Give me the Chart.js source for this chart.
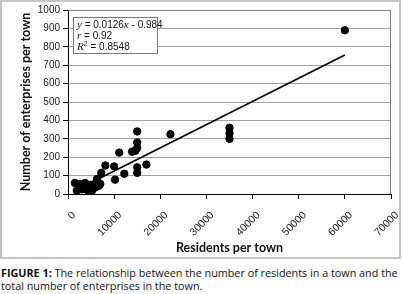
<!DOCTYPE html>
<html lang="en">
<head>
  <meta charset="UTF-8">
  <title>Residents vs enterprises</title>
</head>
<style>
  body { margin: 0; background: #fff; }
  .wrap { position: absolute; left: 0; top: 0; width: 403px; height: 260px; }
  .caption {
    position: absolute; left: 1px; top: 266px; width: 402px;
    font-family: "Open Sans", sans-serif; font-size: 10.8px; line-height: 13px; color: #111;
    white-space: nowrap;
  }
</style>
<body>
<div class="wrap">
  <canvas id="scatterChart"></canvas>
</div>
<div class="caption"><b>FIGURE 1:</b> The relationship between the number of residents in a town and the<br>total number of enterprises in the town.</div>

<script src="https://cdn.jsdelivr.net/npm/chart.js"></script>

<script>
  // residents per town (x) and enterprises per town (y)
  const residents = [1500, 1900, 2300, 2600, 3000, 3100, 3700, 4100, 4400, 4600, 4800, 5200, 5600, 5800, 5900,
    6300, 6700, 7000, 7200, 8100, 10000, 10200, 11100, 12200, 13900, 14600,
    15000, 15000, 15000, 15000, 15000, 17000, 22200, 35000, 35000, 35000, 60000];
  const enterprises = [60, 18, 45, 55, 25, 40, 60, 22, 45, 28, 50, 18, 40, 55, 35,
    82, 45, 55, 115, 155, 150, 78, 225, 110, 230, 235,
    340, 280, 250, 145, 115, 160, 325, 360, 330, 300, 890];

  // trendline shown in the figure
  const slope = 0.0126;
  const intercept = -0.984;

  const xTicks = [0, 10000, 20000, 30000, 40000, 50000, 60000, 70000];
  const yTicks = [0, 100, 200, 300, 400, 500, 600, 700, 800, 900, 1000];

  const points = residents.map((x, i) => ({ x: x, y: enterprises[i] }));
  const xMin = Math.min(...residents);
  const xMax = Math.max(...residents);
  const trend = [
    { x: xMin, y: slope * xMin + intercept },
    { x: xMax, y: slope * xMax + intercept }
  ];

  const decor = {
    id: 'decor',
    beforeDraw(chart) {
      const c = chart.ctx;
      c.save();
      c.strokeStyle = '#c4c4c4';
      c.lineWidth = 2;
      c.strokeRect(1, 1, 399, 257);
      c.restore();
    },
    afterDraw(chart) {
      const c = chart.ctx;
      const a = chart.chartArea;
      c.save();
      // plot area border (top/right)
      c.strokeStyle = '#808080';
      c.lineWidth = 1;
      c.beginPath();
      c.moveTo(a.left, a.top + 0.5);
      c.lineTo(a.right - 0.5, a.top + 0.5);
      c.lineTo(a.right - 0.5, a.bottom);
      c.stroke();

      // stats box
      const bx = a.left + 5, by = a.top + 7, bw = 84, bh = 36;
      c.fillStyle = '#fff';
      c.fillRect(bx, by, bw, bh);
      c.strokeStyle = '#777';
      c.strokeRect(bx + 0.5, by + 0.5, bw, bh);

      c.fillStyle = '#111';
      c.textBaseline = 'alphabetic';
      const sans = '10px "Liberation Sans"';
      const ital = 'italic 11px "Liberation Serif"';
      function run(parts, x, y) {
        parts.forEach(p => {
          c.font = p[1];
          c.fillText(p[0], x, y);
          x += c.measureText(p[0]).width;
        });
      }
      const tx = bx + 4;
      run([['y', ital], [' = 0.0126', sans], ['x', ital], [' - 0.984', sans]], tx, by + 11);
      run([['r', ital], [' = 0.92', sans]], tx, by + 22);
      c.font = ital;
      c.fillText('R', tx, by + 33);
      const rw = c.measureText('R').width;
      c.font = '7px "Liberation Sans"';
      c.fillText('2', tx + rw, by + 29);
      c.font = sans;
      c.fillText(' = 0.8548', tx + rw + 4, by + 33);
      c.restore();
    }
  };

  const ctx = document.getElementById('scatterChart').getContext('2d');
  new Chart(ctx, {
    type: 'scatter',
    data: {
      datasets: [
        {
          label: 'Towns',
          data: points,
          backgroundColor: '#000',
          borderColor: '#000',
          pointRadius: 3.7,
          pointHoverRadius: 3.7
        },
        {
          type: 'line',
          label: 'Trend',
          data: trend,
          borderColor: '#000',
          borderWidth: 1.6,
          pointRadius: 0,
          fill: false
        }
      ]
    },
    options: {
      responsive: true,
      maintainAspectRatio: false,
      animation: false,
      layout: { padding: { top: 10, right: 12, left: 0, bottom: 0 } },
      plugins: {
        legend: { display: false },
        tooltip: { enabled: false }
      },
      scales: {
        x: {
          type: 'linear',
          min: 0,
          max: 70000,
          afterFit: s => { s.height = 66; s.paddingRight = 0; s.paddingLeft = 0; },
          afterBuildTicks: s => { s.ticks = xTicks.map(v => ({ value: v })); },
          ticks: {
            minRotation: 45,
            maxRotation: 45,
            padding: 10,
            labelOffset: 6,
            color: '#222',
            font: { family: 'Liberation Sans', size: 10.5 },
            callback: v => String(v)
          },
          grid: { drawOnChartArea: false, tickLength: 5, tickColor: '#000' },
          border: { color: '#000' },
          title: {
            display: true,
            text: 'Residents per town',
            color: '#111',
            font: { family: 'Lato', size: 12.5, weight: 'bold' },
            padding: { top: 0, bottom: 5 }
          }
        },
        y: {
          min: 0,
          max: 1000,
          afterFit: s => { s.width = 68; },
          afterBuildTicks: s => { s.ticks = yTicks.map(v => ({ value: v })); },
          ticks: {
            padding: 3,
            color: '#222',
            font: { family: 'Liberation Sans', size: 10 },
            callback: v => String(v)
          },
          grid: { color: '#a0a0a0', tickLength: 5, tickColor: '#000' },
          border: { color: '#000' },
          title: {
            display: true,
            text: 'Number of enterprises per town',
            color: '#111',
            font: { family: 'Lato', size: 12.5, weight: 'bold' },
            padding: { top: 18, bottom: 0 }
          }
        }
      }
    },
    plugins: [decor]
  });
</script>
</body>
</html>
